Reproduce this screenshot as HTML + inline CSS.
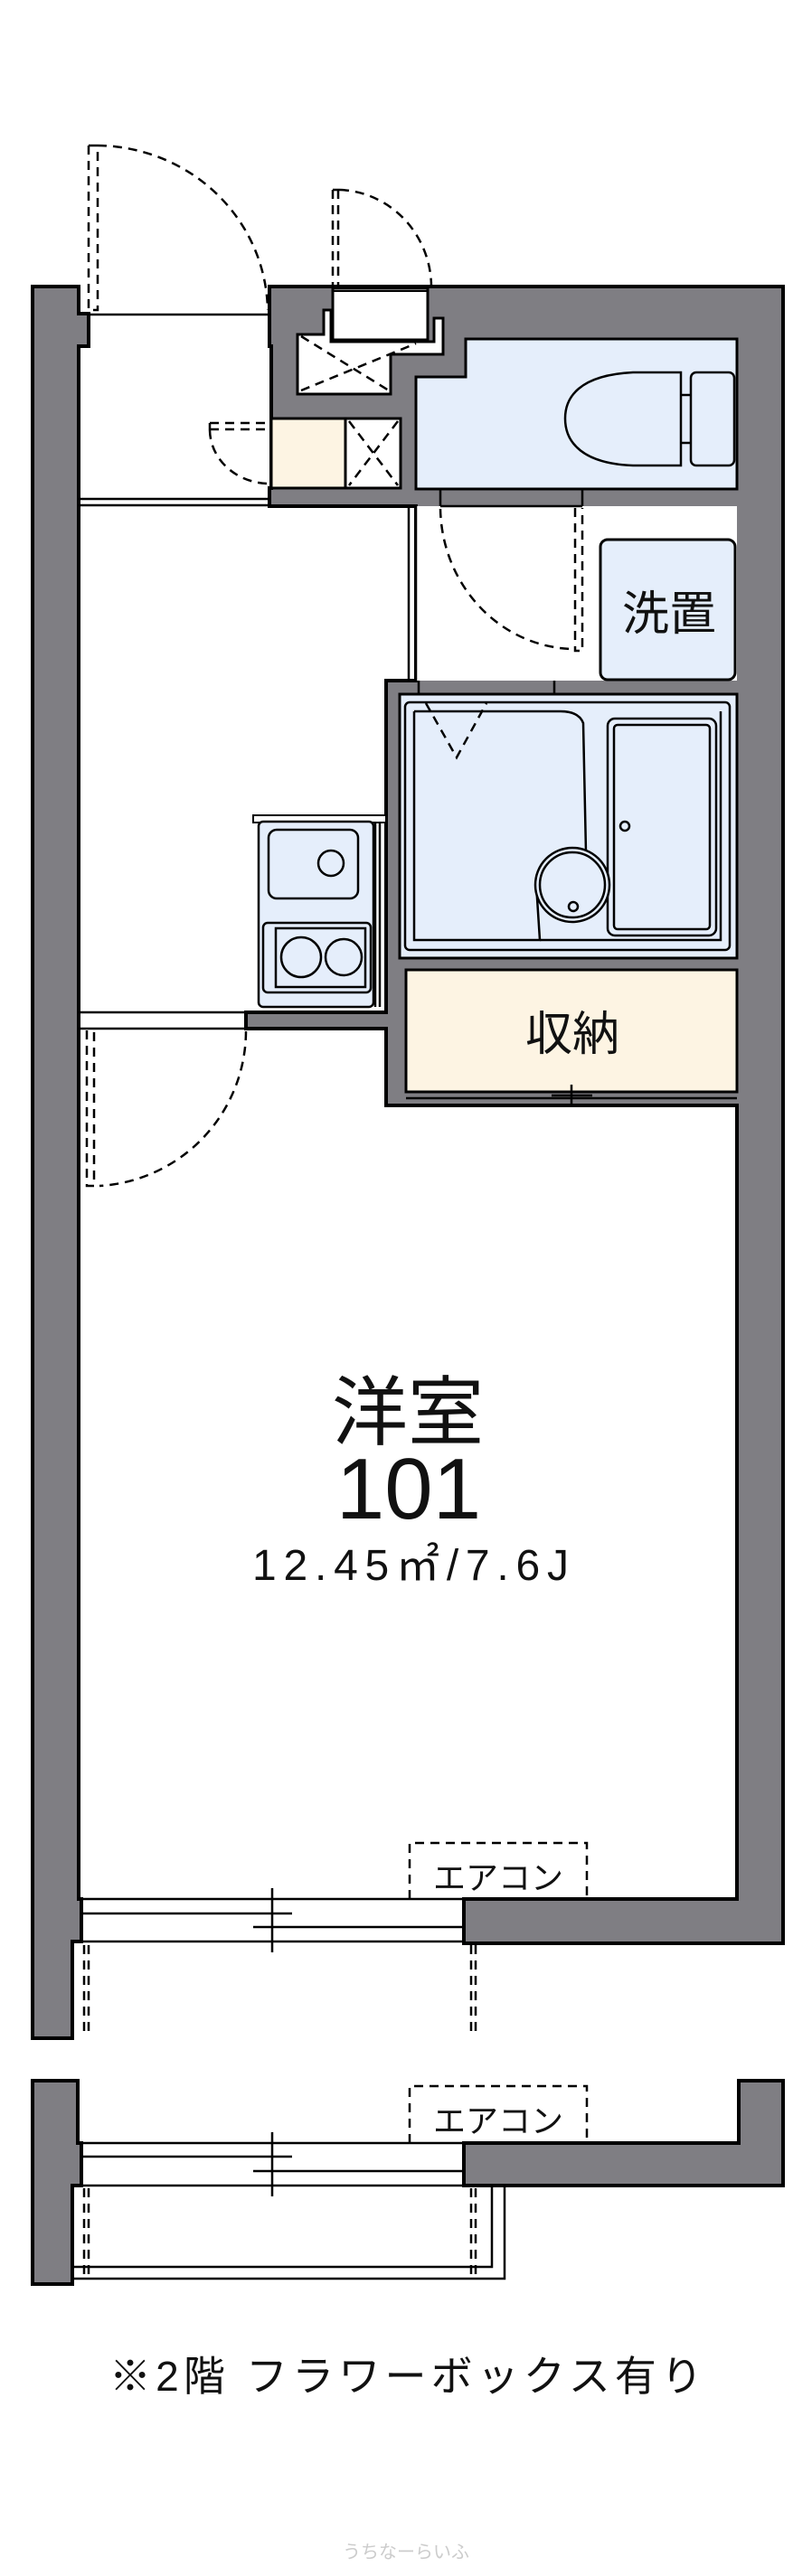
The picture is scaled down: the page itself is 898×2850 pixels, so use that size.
<!DOCTYPE html>
<html><head><meta charset="utf-8"><style>
html,body{margin:0;padding:0;background:#fff}
svg{display:block}
text{font-family:"Liberation Sans","Noto Sans CJK JP",sans-serif;fill:#111}
</style></head><body>
<svg width="898" height="2850" viewBox="0 0 898 2850" xmlns="http://www.w3.org/2000/svg">
<g stroke="#000" stroke-width="4" stroke-linejoin="miter">
<path d="M36,317 H87 V347 H98 V383 H87 V2101 H90 V2148 H80 V2255 H36 Z" fill="#7f7e83"/>
<path d="M298,317 H866 V2150 H513 V2101 H815 V1223 H427 V1138 H272 V1120 H427 V753 H460 V560 H298 V540 H300 V383 H298 Z" fill="#7f7e83"/>
</g>
<g stroke="#000" stroke-width="3">
<rect x="368" y="319" width="105" height="57" fill="#fff"/>
<path d="M329,370 H358 V343 H366 V378 H480 V352 H490 V392 H432 V436 H329 Z" fill="#fff"/>
<rect x="300" y="463" width="82" height="77" fill="#fdf4e3"/>
<rect x="382" y="463" width="61" height="77" fill="#fff"/>
<path d="M460,417 H515 V375 H815 V541 H460 Z" fill="#e5eefb"/>
<rect x="460" y="560" width="355" height="193" fill="#fff" stroke="none"/>
<rect x="664" y="597" width="149" height="155" rx="8" fill="#e5eefb"/>
<rect x="442" y="768" width="373" height="292" fill="#e5eefb"/>
<rect x="449" y="1073" width="366" height="135" fill="#fdf4e3"/>
<rect x="280" y="902" width="147" height="8" fill="#fff" stroke-width="2"/>
<rect x="286" y="909" width="127" height="205" rx="5" fill="#e5eefb" stroke-width="2.5"/>
</g>
<line x1="368" y1="322" x2="473" y2="322" stroke="#000" stroke-width="2"/>
<g stroke="#000" stroke-width="2.5" fill="none" stroke-dasharray="10,7">
<path d="M333,372 L430,432 M333,432 L460,380"/>
<path d="M386,466 L440,537 M440,466 L386,537"/>
<path d="M98,161 H108 M98,161 V343 H108 V161"/>
<path d="M108,161 A190 185 0 0 1 296,343"/>
<path d="M368,210 V317 M374,210 V317 M368,210 H376"/>
<path d="M376,210 A105 108 0 0 1 477,317"/>
<path d="M232,468 H300 M232,475 H300 M232,468 V476"/>
<path d="M232,476 A66 60 0 0 0 298,535"/>
<path d="M487,563 A150 158 0 0 0 632,718"/>
<path d="M636,562 V720 H644 V562"/>
<path d="M471,778 L505,838 L538,778"/>
<path d="M272,1141 A172 172 0 0 1 110,1312"/>
<path d="M96,1140 V1312 H104 V1140"/>
<path d="M453,2101 V2039 H649 V2101"/>
<path d="M453,2371 V2308 H649 V2371"/>
<path d="M93,2152 V2252 M98,2152 V2252 M521,2152 V2252 M526,2152 V2252"/>
<path d="M93,2421 V2520 M98,2421 V2520 M521,2421 V2520 M526,2421 V2520"/>
</g>
<g stroke="#000" stroke-width="2.5" fill="none">
<path d="M98,348 H297 M87,552 H298 M87,559 H298"/>
<path d="M452,560 V753 M460,560 V753"/>
<path d="M487,541 V560 M644,541 V560 M487,560 H644"/>
<path d="M463,753 V768 M613,753 V768"/>
<path d="M449,1208 H815 M449,1215 H815 M632,1200 V1223 M610,1212 H655"/>
<path d="M87,1120 H272 M87,1138 H272"/>
<path d="M753,412 H700 C640,415 625,440 625,463 C625,490 645,513 700,515 H753 Z" fill="#e5eefb"/>
<rect x="764" y="412" width="48" height="103" rx="6" fill="#e5eefb"/>
<path d="M753,437 H764 M753,490 H764"/>
<rect x="448" y="777" width="359" height="274" rx="5"/>
<path d="M458,787 H620 Q640,787 645,800 L648,943 M593,978 L597,1040 H458 V787" />
<rect x="672" y="795" width="120" height="240" rx="8"/>
<rect x="679" y="802" width="106" height="226" rx="4"/>
<path d="M797,787 V1040 H597"/>
<circle cx="633" cy="979" r="41" fill="#e5eefb"/>
<circle cx="633" cy="979" r="36"/>
<circle cx="634" cy="1003" r="5"/>
<circle cx="691" cy="914" r="5"/>
<rect x="297" y="918" width="99" height="76" rx="9"/>
<circle cx="366" cy="955" r="14"/>
<rect x="291" y="1021" width="119" height="77" rx="5"/>
<rect x="305" y="1027" width="99" height="65"/>
<circle cx="333" cy="1059" r="22"/>
<circle cx="380" cy="1059" r="20"/>
<path d="M415,910 V1114 M420,910 V1114"/>
<path d="M90,2101 H513 M90,2148 H513 M90,2117 H323 M280,2132 H513 M301,2089 V2160"/>
<path d="M90,2371 H513 M90,2418 H513 M90,2386 H323 M280,2402 H513 M301,2359 V2430"/>
<path d="M513,2418 H544 V2508 H80 M513,2418 H558 V2521 H80"/>
</g>
<g stroke="#000" stroke-width="4" fill="#7f7e83">
<path d="M36,2302 H86 V2371 H90 V2418 H80 V2527 H36 Z"/>
<path d="M817,2302 H866 V2418 H513 V2371 H817 Z"/>
</g>
<text x="740" y="697" font-size="52" text-anchor="middle">洗置</text>
<text x="633" y="1162" font-size="52" text-anchor="middle">収納</text>
<text x="451" y="1592" font-size="84" text-anchor="middle">洋室</text>
<text x="452" y="1680" font-size="96" text-anchor="middle">101</text>
<text x="279" y="1748" font-size="48" textLength="350" lengthAdjust="spacing">12.45㎡/7.6J</text>
<text x="551" y="2090" font-size="36" text-anchor="middle">エアコン</text>
<text x="551" y="2359" font-size="36" text-anchor="middle">エアコン</text>
<text x="121" y="2645" font-size="46" textLength="656" lengthAdjust="spacing">※2階 フラワーボックス有り</text>
<text x="449" y="2830" font-size="20" text-anchor="middle" style="fill:#ccc">うちなーらいふ</text>
</svg>
</body></html>
